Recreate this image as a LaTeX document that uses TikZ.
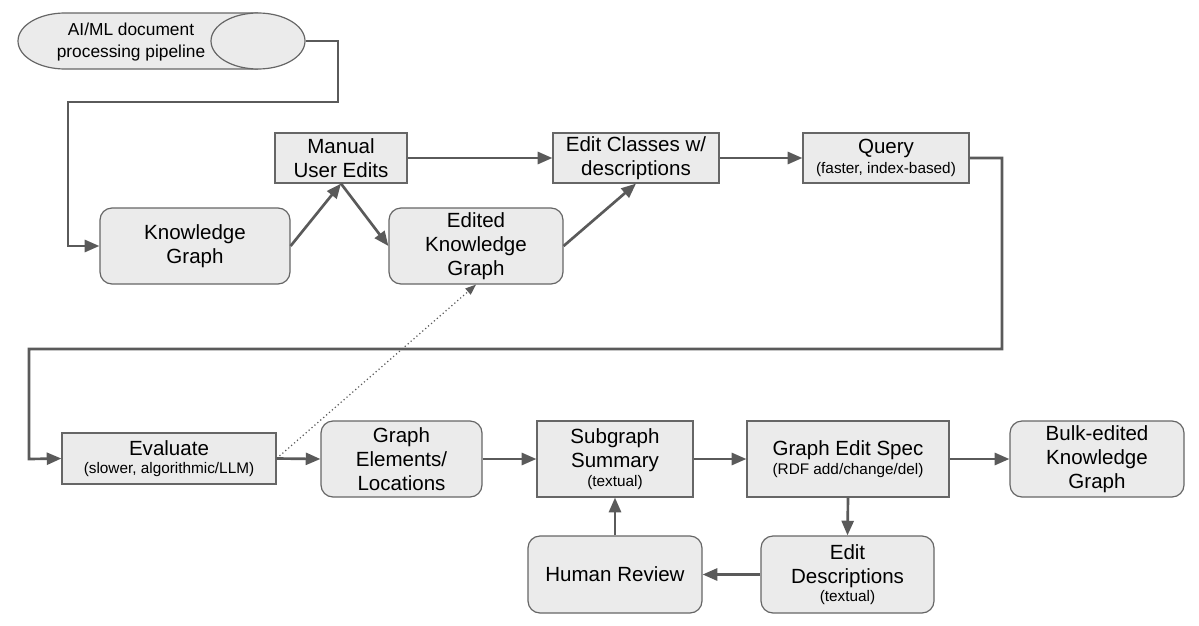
\documentclass[tikz,border=0pt]{standalone}
\usepackage{xcolor}
\usepackage{fontspec}
\setmainfont{Liberation Sans}
\usepackage{tikz}
\usetikzlibrary{arrows.meta,shapes.geometric}

\definecolor{boxfill}{RGB}{235,235,235}
\definecolor{boxline}{RGB}{102,102,102}
\definecolor{flowline}{RGB}{90,90,90}
\newcommand{\subline}[1]{{\fontsize{11.5}{13}\selectfont #1}}

\tikzset{
        box/.style={draw=boxline, fill=boxfill, line width=0.9pt, inner sep=0pt, align=center, font=\fontsize{15.4}{18}\selectfont},
        sqbox/.style={box},
        rbox/.style={box, rounded corners=9pt},
        flow/.style={draw=flowline, line width=2pt, -{Triangle[length=11pt,width=9pt]}},
        hint/.style={draw=flowline, line width=0.9pt, dotted, -{Triangle[length=8pt,width=6pt]}}
}

\begin{document}
\begin{tikzpicture}[x=0.75pt,y=0.75pt,yscale=-1,xscale=1]
        \useasboundingbox (0,0) rectangle (1199,625);

        \draw [draw=boxline, fill=boxfill, line width=0.9pt] (258,13) -- (65,13) .. controls (39,13) and (18,25.5) .. (18,41) .. controls (18,56.5) and (39,69) .. (65,69) -- (258,69) ;
        \node [box, ellipse, minimum width=70.5pt, minimum height=42pt] (cap) at (258,41) {};
        \node [align=center, inner sep=0pt, font=\fontsize{13}{16}\selectfont] (pipeline) at (131,42) {AI/ML document\\processing pipeline};

        \node [rbox, minimum width=142.5pt, minimum height=57pt] (kg) at (195,246) {Knowledge\\Graph};
        \node [sqbox, minimum width=99pt, minimum height=37.5pt] (manual) at (341,158) {Manual\\User Edits};
        \node [rbox, minimum width=130.5pt, minimum height=57pt] (edited) at (476,246) {Edited\\Knowledge\\Graph};
        \node [sqbox, minimum width=124.5pt, minimum height=37.5pt] (classes) at (636,158) {Edit Classes w/\\descriptions};
        \node [sqbox, minimum width=124.5pt, minimum height=37.5pt] (query) at (886,158) {Query\\[-3pt]\subline{(faster, index-based)}};

        \node [sqbox, minimum width=160.5pt, minimum height=38.25pt] (eval) at (169,458.5) {Evaluate\\[-4pt]\subline{(slower, algorithmic/LLM)}};
        \node [rbox, minimum width=120.75pt, minimum height=57pt] (elements) at (401.5,459) {Graph\\Elements/\\Locations};
        \node [sqbox, minimum width=117pt, minimum height=57pt] (summary) at (615,459) {Subgraph\\Summary\\[-4pt]\subline{(textual)}};
        \node [sqbox, minimum width=151.5pt, minimum height=57pt] (spec) at (848,459) {Graph Edit Spec\\[-4pt]\subline{(RDF add/change/del)}};
        \node [rbox, minimum width=130.5pt, minimum height=57pt] (bulk) at (1097,459) {Bulk-edited\\Knowledge\\Graph};
        \node [rbox, minimum width=129.75pt, minimum height=57.75pt] (descr) at (847.5,574.5) {Edit\\Descriptions\\[-4pt]\subline{(textual)}};
        \node [rbox, minimum width=130.5pt, minimum height=57.75pt] (review) at (615,574.5) {Human Review};

        \draw [flow] (cap.east) -| (338,102) -| (68,246) -- (kg.west) ;
        \draw [flow] (kg.east) -- (manual.south) ;
        \draw [flow] (manual.south) -- (edited.west) ;
        \draw [flow] (manual.east) -- (classes.west) ;
        \draw [flow] (edited.east) -- (classes.south) ;
        \draw [flow] (classes.east) -- (query.west) ;
        \draw [flow] (query.east) -| (1002,349) -| (29,459) -- (eval.west) ;
        \draw [flow] (eval.east) -- (elements.west) ;
        \draw [hint] (eval.east) -- (edited.south) ;
        \draw [flow] (elements.east) -- (summary.west) ;
        \draw [flow] (summary.east) -- (spec.west) ;
        \draw [flow] (spec.east) -- (bulk.west) ;
        \draw [flow] (spec.south) -- (descr.north) ;
        \draw [flow] (descr.west) -- (review.east) ;
        \draw [flow] (review.north) -- (summary.south) ;
\end{tikzpicture}
\end{document}
